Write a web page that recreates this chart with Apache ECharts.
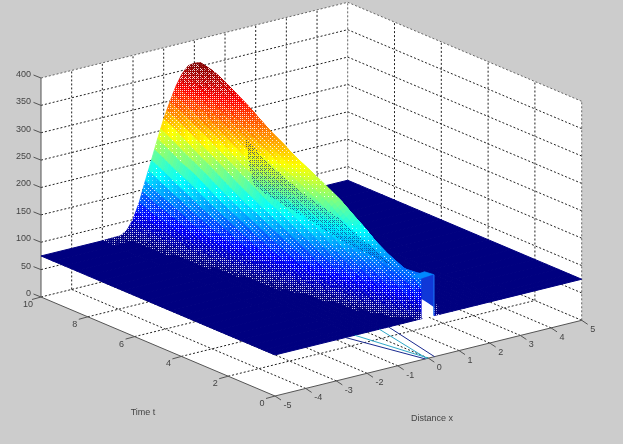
<!DOCTYPE html>
<html><head><meta charset="utf-8">
<style>html,body{margin:0;padding:0;background:#cccccc}#c{width:623px;height:444px;filter:blur(0.35px)}</style>
<script src="https://cdn.jsdelivr.net/npm/echarts@6/dist/echarts.min.js"></script>
</head><body><div id="c"></div>
<script>
// Tick labels
const xTicks = [-5,-4,-3,-2,-1,0,1,2,3,4,5];
const tTicks = [0,2,4,6,8,10];
const zTicks = [0,50,100,150,200,250,300,350,400];
// Surface: distance from the ridge |x|, time t, height
const absX = [0,0.2,0.4,0.6,0.8,1.0,1.2,1.4,1.6,1.8,2.0,2.2,2.4,3,5];
const times = [0,0.25,0.5,1,1.5,2,2.5,3,3.5,4,4.5,5,5.5,6,6.5,7,7.5,8,8.5,9,9.5,10];
const heights = [
[150,75,75,75,75,75,75,75,75,75,75,75,75,75,75],
[149,102,75,75,75,75,75,75,75,75,75,75,75,75,75],
[147,126,88,75,75,75,75,75,75,75,75,75,75,75,75],
[145,133,109,83,75,75,75,75,75,75,75,75,75,75,75],
[151,142,122,99,79,75,75,75,75,75,75,75,75,75,75],
[160,152,135,112,89,77,75,75,75,75,75,75,75,75,75],
[173,165,148,126,103,85,75,75,75,75,75,75,75,75,75],
[190,182,165,142,120,95,79,75,75,75,75,75,75,75,75],
[205,197,180,157,134,109,87,75,75,75,75,75,75,75,75],
[220,213,195,174,148,122,97,81,75,75,75,75,75,75,75],
[232,225,207,185,160,134,108,87,76,75,75,75,75,75,75],
[243,237,219,198,173,145,118,95,80,75,75,75,75,75,75],
[253,248,230,208,185,156,129,102,84,75,75,75,75,75,75],
[265,259,242,219,196,168,140,113,91,78,75,75,75,75,75],
[278,273,255,233,210,178,152,123,99,81,75,75,75,75,75],
[290,285,266,245,222,191,163,133,106,85,76,75,75,75,75],
[305,300,282,259,237,205,175,143,113,91,77,75,75,75,75],
[320,315,297,273,250,219,189,154,123,99,81,75,75,75,75],
[333,328,310,287,264,231,202,166,134,106,85,76,75,75,75],
[345,341,326,305,276,245,211,177,143,112,89,77,75,75,75],
[354,351,338,316,289,259,224,189,153,119,94,80,75,75,75],
[358,356,344,324,298,270,236,200,165,128,100,83,76,75,75]
];
// Thin stray lines at the near edge: [x0,t0,z0,x1,t1,z1]
const strayLines = [
[-2.7,0,75,-0.1,0,0],
[-2.4,0,75,0.0,0,0],
[-1.6,0,75,-0.05,0,0],
[-1.3,0,75,0.2,0,0]
];
const strayColors = ['#1a2a90','#30a8c8','#30a8c8','#1a2a90'];
// Initial top-hat at t=0: opening [x,z], and the wall above it [x,z]
const notch = [[-0.22,75],[0.18,75],[0.18,91],[-0.22,111]];
const hatWall = [[-0.22,111],[0.18,91],[0.18,150],[-0.22,148]];
// top of the hat: [x,t,z]
const hatTop = [[-0.22,0,148],[0.18,0,150],[0.18,0.4,148],[-0.22,0.4,146]];
// mesh see-through patch outline, page px
const lens = [[245,138],[250,170],[255,187],[287,207],[320,227],[353,247],[377,258],[395,268],[367,243],[337,217],[303,193],[270,165]];
// how much of the background shows through the mesh, by relative height
const gapLevels = [0.24,0.2,0.16,0.07,0.03,0.03,0.05,0.12,0.22,0.28,0.32];

const O=[275,396], EX=[30.67,-7.57], ET=[-23.4,-9.9], EZ=-219/400;
function P(x,t,z){return [O[0]+(x+5)*EX[0]+t*ET[0], O[1]+(x+5)*EX[1]+t*ET[1]+z*EZ];}
const zMin=75,zMax=358;
function cl(v){return Math.max(0,Math.min(1,v));}
function jet(z){const v=cl((z-zMin)/(zMax-zMin));
 const r=cl(1.5-Math.abs(4*v-3)),g=cl(1.5-Math.abs(4*v-2)),b=cl(1.5-Math.abs(4*v-1));
 return 'rgb('+Math.round(r*255)+','+Math.round(g*255)+','+Math.round(b*255)+')';}
function inPoly(poly,p){let c=false;for(let i=0,j=poly.length-1;i<poly.length;j=i++){
 const a=poly[i],b=poly[j];
 if((a[1]>p[1])!==(b[1]>p[1])&&p[0]<(b[0]-a[0])*(p[1]-a[1])/(b[1]-a[1])+a[0])c=!c;}return c;}
const bayer=[[0,8,2,10],[12,4,14,6],[3,11,1,9],[15,7,13,5]];
function gap(z){const v=cl((z-zMin)/(zMax-zMin))*(gapLevels.length-1);const k=Math.min(gapLevels.length-2,Math.floor(v));
 return gapLevels[k]+(gapLevels[k+1]-gapLevels[k])*(v-k);}

const xs=[...absX.slice(1).reverse().map(v=>-v),...absX];
const cols=heights.map(r=>[...r.slice(1).reverse(),...r]);
const cellData=[];
for(let i=times.length-2;i>=0;i--)for(let j=xs.length-2;j>=0;j--)cellData.push([i,j]);

const chart=echarts.init(document.getElementById('c'),null,{renderer:'canvas'});
function poly(api,pts,style){return {type:'polygon',shape:{points:pts.map(p=>api.coord(p))},style,silent:true};}
function seg(api,a,b,style){const A=api.coord(a),B=api.coord(b);return {type:'line',shape:{x1:A[0],y1:A[1],x2:B[0],y2:B[1]},style,silent:true};}
const dash={stroke:'#222',lineWidth:1,lineDash:[2,2],fill:null};
const dashG={stroke:'#666',lineWidth:1,lineDash:[2,2],fill:null};
const solid={stroke:'#555',lineWidth:1,fill:null};

function renderBox(p,api){
 const ch=[];
 const a=(x,t,z)=>P(x,t,z);
 ch.push(poly(api,[a(-5,10,0),a(5,10,0),a(5,10,400),a(-5,10,400)],{fill:'#fff'}));
 ch.push(poly(api,[a(5,10,0),a(5,0,0),a(5,0,400),a(5,10,400)],{fill:'#fff'}));
 ch.push(poly(api,[a(-5,0,0),a(5,0,0),a(5,10,0),a(-5,10,0)],{fill:'#fff'}));
 xTicks.slice(1,-1).forEach(x=>{ch.push(seg(api,a(x,10,0),a(x,10,400),dash));ch.push(seg(api,a(x,0,0),a(x,10,0),dash));});
 tTicks.slice(1,-1).forEach(t=>{ch.push(seg(api,a(5,t,0),a(5,t,400),dash));ch.push(seg(api,a(-5,t,0),a(5,t,0),dash));});
 zTicks.slice(1).forEach(z=>{ch.push(seg(api,a(-5,10,z),a(5,10,z),z==400?dashG:dash));ch.push(seg(api,a(5,10,z),a(5,0,z),z==400?dashG:dash));});
 ch.push(seg(api,a(5,10,0),a(5,10,400),dashG));
 ch.push(seg(api,a(5,0,0),a(5,0,400),dashG));
 ch.push(seg(api,a(-5,10,0),a(5,10,0),dash));
 ch.push(seg(api,a(5,10,0),a(5,0,0),dash));
 ch.push(seg(api,a(-5,10,0),a(-5,10,400),solid));
 ch.push(seg(api,a(-5,10,0),a(-5,0,0),solid));
 ch.push(seg(api,a(-5,0,0),a(5,0,0),solid));
 // tick stubs and labels
 const txt=(s,x,y,al)=>({type:'text',style:{text:s,x:api.coord([x,y])[0],y:api.coord([x,y])[1],align:al||'center',verticalAlign:'middle',font:'9px "Liberation Sans"',fill:'#444'},silent:true});
 zTicks.forEach(z=>{const q=a(-5,10,z);ch.push(seg(api,[q[0]-7.5,q[1]-3],q,solid));ch.push(txt(String(z),q[0]-10,q[1]-3.5,'right'));});
 tTicks.forEach(t=>{const q=a(-5,t,0);ch.push(seg(api,[q[0]-9,q[1]+2.5],q,solid));ch.push(txt(String(t),q[0]-13,q[1]+7.5));});
 xTicks.forEach(x=>{const q=a(x,0,0);ch.push(seg(api,[q[0]+6,q[1]+4],q,solid));ch.push(txt(String(x),q[0]+(x<0?12.5:11),q[1]+9.5));});
 ch.push(txt('Time t',143,413));
 ch.push(txt('Distance x',432,419));
 return {type:'group',children:ch};
}
function renderCell(p,api){
 const i=api.value(0),j=api.value(1);
 const x0=xs[j],x1=xs[j+1],t0=times[i],t1=times[i+1];
 const z00=cols[i][j],z01=cols[i][j+1],z10=cols[i+1][j],z11=cols[i+1][j+1];
 if(z00===zMin&&z01===zMin&&z10===zMin&&z11===zMin){
  const c=jet(zMin);
  return poly(api,[P(x0,t0,zMin),P(x1,t0,zMin),P(x1,t1,zMin),P(x0,t1,zMin)],{fill:c,stroke:c,lineWidth:1});
 }
 const nx=Math.max(1,Math.round((x1-x0)/0.1)),nt=Math.max(1,Math.round((t1-t0)/0.125));
 const ch=[];
 const z=(a,b)=>(1-b)*((1-a)*z00+a*z01)+b*((1-a)*z10+a*z11);
 for(let b=nt-1;b>=0;b--)for(let a=nx-1;a>=0;a--){
  const a0=a/nx,a1=(a+1)/nx,b0=b/nt,b1=(b+1)/nt;
  const X0=x0+(x1-x0)*a0,X1=x0+(x1-x0)*a1,T0=t0+(t1-t0)*b0,T1=t0+(t1-t0)*b1;
  const zc=z((a0+a1)/2,(b0+b1)/2);
  const pts=[P(X0,T0,z(a0,b0)),P(X1,T0,z(a1,b0)),P(X1,T1,z(a1,b1)),P(X0,T1,z(a0,b1))];
  const c=jet(zc);
  ch.push(poly(api,pts,{fill:c,stroke:c,lineWidth:0.8}));
  if(zc<=zMin+0.01)continue;
  const g=gap(zc);
  const bx=pts.map(q=>q[0]),by=pts.map(q=>q[1]);
  for(let py=Math.floor(Math.min(...by));py<=Math.ceil(Math.max(...by));py++)
   for(let px=Math.floor(Math.min(...bx));px<=Math.ceil(Math.max(...bx));px++){
    const C=[px+0.5,py+0.5];
    if(!inPoly(pts,C))continue;
    const dark=inPoly(lens,C);
    if(bayer[py&3][px&3]+0.5<(dark?0.3:g)*16){
     ch.push({type:'rect',shape:{x:px,y:py,width:1,height:1},style:{fill:dark?'#0c2a86':'#fff',opacity:dark?0.65:0.85},silent:true});
    }
   }
 }
 return {type:'group',children:ch};
}
function renderTop(p,api){
 const ch=[];
 ch.push(poly(api,hatTop.map(n=>P(n[0],n[1],n[2])),{fill:jet(148),stroke:jet(148),lineWidth:0.8}));
 ch.push(poly(api,hatWall.map(n=>P(n[0],0,n[1])),{fill:'#1038d8',stroke:'#1038d8',lineWidth:0.5}));
 ch.push(poly(api,notch.map(n=>P(n[0],0,n[1])),{fill:'#fff'}));
 ch.push(seg(api,P(0.18,0,75),P(0.18,0,150),{stroke:'#1a6cf0',lineWidth:1.2}));
 strayLines.forEach((l,k)=>ch.push(seg(api,P(l[0],l[1],l[2]),P(l[3],l[4],l[5]),{stroke:strayColors[k],lineWidth:1})));
 return {type:'group',children:ch};
}
chart.setOption({
 animation:false,backgroundColor:'#cccccc',
 grid:{left:0,right:0,top:0,bottom:0},
 xAxis:{type:'value',min:0,max:623,show:false},
 yAxis:{type:'value',min:0,max:444,inverse:true,show:false},
 series:[
  {type:'custom',renderItem:renderBox,data:[[0,0]],coordinateSystem:'cartesian2d',clip:false,silent:true,z:1},
  {type:'custom',renderItem:renderCell,data:cellData,coordinateSystem:'cartesian2d',clip:false,silent:true,progressive:0,z:2},
  {type:'custom',renderItem:renderTop,data:[[0,0]],coordinateSystem:'cartesian2d',clip:false,silent:true,z:3}
 ]
});
</script></body></html>
